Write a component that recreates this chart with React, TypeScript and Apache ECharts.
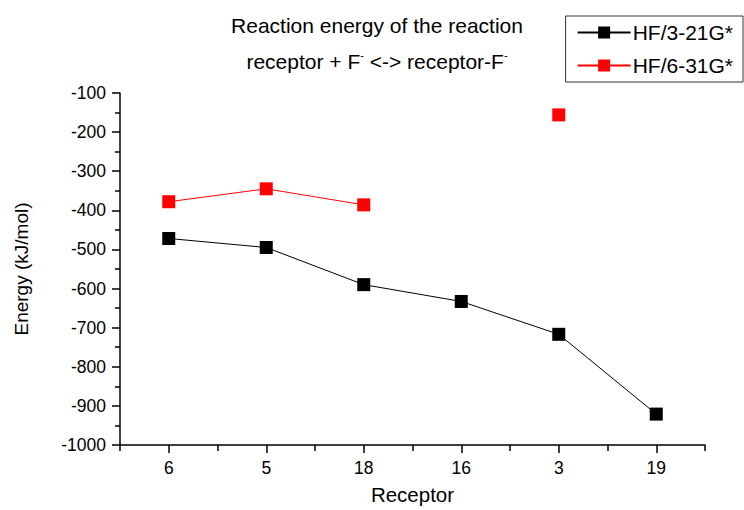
import React, { useEffect, useRef } from "react";
import * as echarts from "echarts";

const categories = ["6", "5", "18", "16", "3", "19"];
const hf321 = [-472, -495, -590, -633, -717, -921];
const hf631: (number | null)[] = [-378, -345, -386, null, -156, null];
const yTicks = { min: -1000, max: -100, interval: 100 };
const titleLine1 = "Reaction energy of the reaction";
const titleLine2 = "receptor + F{sup|-} <-> receptor-F{sup|-}";

const FONT = "Liberation Sans, Arial, sans-serif";

export default function App() {
  const ref = useRef<HTMLDivElement>(null);
  useEffect(() => {
    if (!ref.current) return;
    const chart = echarts.init(ref.current, undefined, { renderer: "svg" });
    chart.setOption({
      animation: false,
      backgroundColor: "#ffffff",
      textStyle: { fontFamily: FONT, color: "#000" },
      graphic: [
        {
          type: "text",
          x: 377,
          y: 25,
          style: {
            text: titleLine1,
            fontFamily: FONT,
            fontSize: 21,
            fill: "#000",
            align: "center",
            verticalAlign: "middle",
          },
        },
        {
          type: "text",
          x: 377,
          y: 61,
          style: {
            text: titleLine2,
            fontFamily: FONT,
            fontSize: 21,
            fill: "#000",
            align: "center",
            verticalAlign: "middle",
            lineHeight: 23,
            rich: {
              sup: { fontSize: 11, fontFamily: FONT, fill: "#000", verticalAlign: "top", lineHeight: 11 },
            },
          },
        },
      ],
      legend: {
        orient: "vertical",
        right: 1,
        top: 16,
        itemWidth: 53,
        itemHeight: 15,
        itemGap: 12,
        padding: [6, 10, 6, 11],
        borderColor: "#333",
        borderWidth: 1,
        borderRadius: 0,
        textStyle: { fontFamily: FONT, fontSize: 21, color: "#000", padding: [0, 0, 0, -3] },
        data: ["HF/3-21G*", "HF/6-31G*"],
      },
      grid: { left: 120, right: 39, top: 93, bottom: 64, containLabel: false },
      xAxis: [
        {
          type: "category",
          data: categories,
          boundaryGap: true,
          name: "Receptor",
          nameLocation: "middle",
          nameGap: 39,
          nameTextStyle: { fontFamily: FONT, fontSize: 20.5, color: "#000" },
          axisLine: { lineStyle: { color: "#000", width: 1.5 } },
          axisTick: { show: true, alignWithLabel: false, length: 6, lineStyle: { color: "#000", width: 1.5 } },
          axisLabel: { fontFamily: FONT, fontSize: 17.5, color: "#000", margin: 14 },
          splitLine: { show: false },
        },
        {
          type: "category",
          data: categories,
          boundaryGap: true,
          position: "bottom",
          axisLine: { show: false },
          axisTick: { show: true, alignWithLabel: true, length: 8, lineStyle: { color: "#000", width: 1.5 } },
          axisLabel: { show: false },
          splitLine: { show: false },
        },
      ],
      yAxis: {
        type: "value",
        min: yTicks.min,
        max: yTicks.max,
        interval: yTicks.interval,
        name: "Energy (kJ/mol)",
        nameLocation: "middle",
        nameGap: 89,
        nameTextStyle: { fontFamily: FONT, fontSize: 19, color: "#000" },
        axisLine: { show: true, lineStyle: { color: "#000", width: 1.5 } },
        axisTick: { show: true, length: 8, lineStyle: { color: "#000", width: 1.5 } },
        minorTick: { show: true, splitNumber: 2, length: 5, lineStyle: { color: "#000", width: 1.5 } },
        axisLabel: {
          fontFamily: FONT,
          fontSize: 17.5,
          color: "#000",
          margin: 14,
          formatter: (v: number) => String(v),
        },
        splitLine: { show: false },
        minorSplitLine: { show: false },
      },
      series: [
        {
          name: "HF/3-21G*",
          type: "line",
          data: hf321,
          symbol: "rect",
          symbolSize: 13,
          showSymbol: true,
          itemStyle: { color: "#000" },
          lineStyle: { color: "#000", width: 1 },
        },
        {
          name: "HF/6-31G*",
          type: "line",
          data: hf631,
          connectNulls: false,
          symbol: "rect",
          symbolSize: 13,
          showSymbol: true,
          itemStyle: { color: "#ff0000" },
          lineStyle: { color: "#ff0000", width: 1 },
        },
      ],
    });
    return () => chart.dispose();
  }, []);
  return <div ref={ref} style={{ width: 744, height: 510, position: "absolute", left: 0, top: 0 }} />;
}
